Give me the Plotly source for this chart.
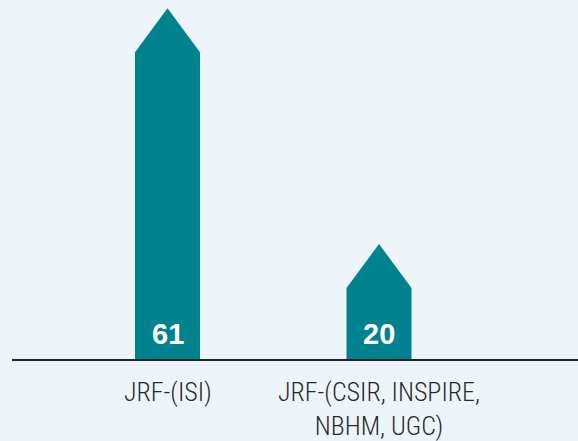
import plotly.graph_objects as go

categories = ["JRF-(ISI)", "JRF-(CSIR, INSPIRE,<br>NBHM, UGC)"]
values = [61, 20]

BAR_COLOR = "#00838f"
BG = "#eef5fa"

W, H = 578, 441
ml, mr, mt, mb = 12, 0, 0, 82
plot_w = W - ml - mr
plot_h = H - mt - mb

px_per_unit_x = 211.5
x0 = -(167.5 - ml) / px_per_unit_x
x1 = x0 + plot_w / px_per_unit_x
y_top = plot_h / 5.75

bar_w = 65 / px_per_unit_x
head_h = 44 / 5.75

fig = go.Figure()
for i, v in enumerate(values):
    hw = bar_w / 2
    xs = [i - hw, i - hw, i, i + hw, i + hw, i - hw]
    ys = [0, v - head_h, v, v - head_h, 0, 0]
    fig.add_trace(go.Scatter(x=xs, y=ys, fill="toself", fillcolor=BAR_COLOR,
                             mode="lines", line=dict(width=0, color=BAR_COLOR),
                             hoverinfo="skip", showlegend=False))
    fig.add_annotation(x=i, y=0, text=f"<b>{v}</b>", showarrow=False,
                       yanchor="bottom", yshift=7,
                       font=dict(family="Liberation Sans, Arial", size=29, color="white"))

for i, c in enumerate(categories):
    fig.add_annotation(x=i, y=0, text=c, showarrow=False, yanchor="top",
                       yshift=-16,
                       font=dict(family="Roboto Condensed, Liberation Sans Narrow, sans-serif",
                                 size=26, color="#2a2a2a", weight=300))

fig.update_xaxes(range=[x0, x1], visible=True, showgrid=False, zeroline=False,
                 showticklabels=False, ticks="", showline=True,
                 linecolor="#222222", linewidth=2, fixedrange=True)
fig.update_yaxes(range=[0, y_top], visible=False, showgrid=False, zeroline=False,
                 fixedrange=True)
fig.update_layout(width=W, height=H, margin=dict(l=ml, r=mr, t=mt, b=mb),
                  paper_bgcolor=BG, plot_bgcolor=BG, showlegend=False)

fig.write_html("out.html", config={"displayModeBar": False},
               post_script="document.body.style.margin='0';document.body.style.background='" + BG + "';")
